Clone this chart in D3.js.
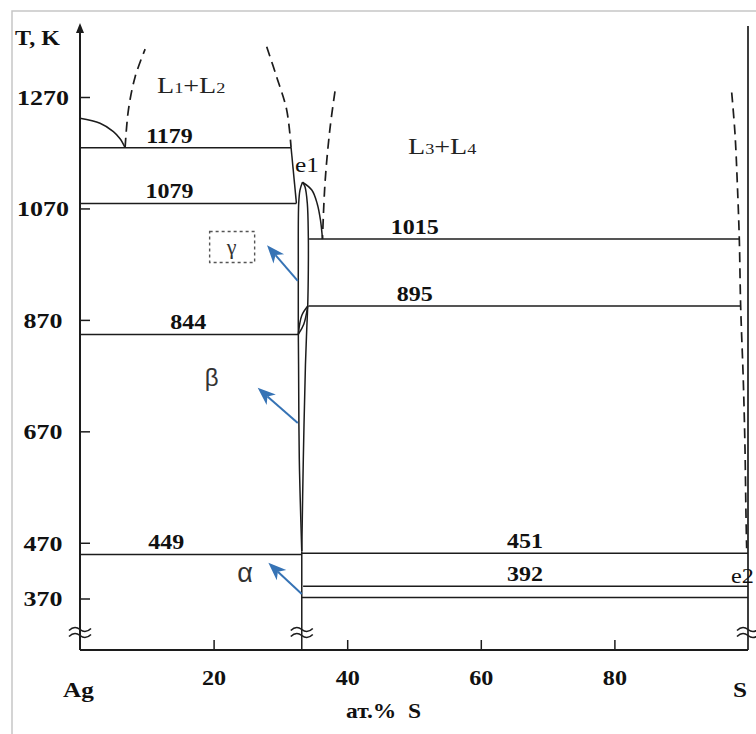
<!DOCTYPE html>
<html>
<head>
<meta charset="utf-8">
<script src="https://cdn.jsdelivr.net/npm/d3@7"></script>
<style>
  html, body { margin: 0; padding: 0; background: #fff; }
  svg { display: block; }
</style>
</head>
<body>
<svg id="chart" width="756" height="734"></svg>
<script>
// Ag–S phase diagram (T, K vs at.% S)

const yTicks = [1270, 1070, 870, 670, 470, 370];
const xTicks = [20, 40, 60, 80];

// Invariant horizontals: temperature and composition span (at.% S)
const isoT      = [1179, 1079, 1015, 895, 844, 449, 451, 392, 372];
const isoFrom   = [0,    0,    34.3, 34.2, 0,    0,    33.2, 33.4, 33.2];
const isoTo     = [31.6, 32.4, 98.7, 98.9, 32.7, 33.2, 100,  100,  100];
const isoLabel  = ["1179", "1079", "1015", "895", "844", "449", "451", "392", ""];
const isoLabelX = [13.4, 13.4, 50.1, 50.1, 16.2, 12.9, 66.6, 66.6, 0];

// Boundary curves as [at.% S, T] pairs
const agLiquidus = [[0, 1232], [3.0, 1223], [5.0, 1208], [6.0, 1195], [6.75, 1179]];
const gap1Left   = [[6.75, 1179], [7.25, 1247], [8.25, 1306], [9.75, 1356]];
const gap1Right  = [[27.95, 1360], [29.44, 1306], [30.94, 1247], [31.6, 1179]];
const gap1Foot   = [[31.6, 1179], [32.4, 1079]];
const gap2Left   = [[38.17, 1280], [37.4, 1211], [36.68, 1116], [36.3, 1015]];
const gap2Right  = [[97.56, 1278], [98.05, 1205], [98.4, 1115], [98.7, 1015],
                    [98.9, 895], [99.3, 760], [99.55, 640], [99.7, 520], [99.8, 460]];
const e1Dome     = [[33.3, 1117], [34.7, 1103], [35.5, 1079], [36.0, 1049], [36.3, 1015]];
const lensLeft   = [[33.3, 1117], [32.93, 1103], [32.74, 1079], [32.68, 960],
                    [32.68, 858], [32.72, 790], [32.83, 620], [33.2, 455]];
const lensRight  = [[33.3, 1117], [33.68, 1109], [34.03, 1079], [34.18, 1019],
                    [34.18, 960], [34.1, 900], [33.94, 852], [33.75, 790],
                    [33.43, 620], [33.2, 455]];
const loopA      = [[32.68, 844], [33.5, 862], [34.1, 895]];
const loopB      = [[32.68, 844], [33.2, 878], [34.1, 895]];
const ag2sLine   = 33.2;   // stoichiometric Ag2S below the lens

// Phase labels and pointers, [at.% S, T]
const phaseNames  = ["γ", "β", "α"];
const phaseAt     = [[22.7, 1000], [19.7, 764], [24.7, 414]];
const pointerFrom = [[32.6, 940], [32.6, 685], [33.2, 378]];
const pointerTo   = [[28.0, 1004], [26.6, 748], [28.2, 434]];

const svg = d3.select("#chart");
const x = d3.scaleLinear().domain([0, 100]).range([80, 748]);
const y = d3.scaleLinear().domain([370, 1270]).range([598.5, 97]);
const axisY = 650, axisTop = 23;

const INK = "#1c1c1c";
const SERIF = "'Liberation Serif', 'Times New Roman', serif";
const SANS = "'Liberation Sans', Arial, sans-serif";
const BLUE = "#3673b5";

// outer frame
svg.append("rect")
  .attr("x", 12).attr("y", 11).attr("width", 780).attr("height", 760)
  .attr("fill", "none").attr("stroke", "#c6c6c6").attr("stroke-width", 1.5);

const line = d3.line().x(d => x(d[0])).y(d => y(d[1])).curve(d3.curveCatmullRom.alpha(0.5));

function stretchText(g, str, px, py, size, anchor, sx, family, weight) {
  return g.append("text")
    .attr("transform", `translate(${px},${py}) scale(${sx},1)`)
    .attr("text-anchor", anchor)
    .attr("font-family", family)
    .attr("font-weight", weight)
    .attr("font-size", size)
    .attr("fill", "#111")
    .style("white-space", "pre")
    .text(str);
}

// y axis
const gy = svg.append("g").attr("transform", "translate(80,0)")
  .call(d3.axisLeft(y).tickValues(yTicks).tickSizeInner(-10).tickSizeOuter(0).tickFormat(d3.format("d")));
gy.select(".domain").remove();
gy.selectAll(".tick line").attr("stroke", INK).attr("stroke-width", 1.5);
gy.selectAll(".tick text")
  .attr("x", 0).attr("dy", "0.34em")
  .attr("transform", "translate(-37,0) scale(1.18,1)")
  .attr("text-anchor", "middle")
  .attr("font-family", SERIF).attr("font-weight", "bold").attr("font-size", 22).attr("fill", "#111");

svg.append("line").attr("x1", 80).attr("x2", 80).attr("y1", axisY).attr("y2", axisTop + 6)
  .attr("stroke", INK).attr("stroke-width", 2);
svg.append("path").attr("d", `M80,${axisTop} L76,${axisTop + 10} L84,${axisTop + 10} Z`).attr("fill", INK);

// x axis
const gx = svg.append("g").attr("transform", `translate(0,${axisY})`)
  .call(d3.axisBottom(x).tickValues(xTicks).tickSizeInner(-10).tickSizeOuter(0));
gx.select(".domain").remove();
gx.selectAll(".tick line").attr("stroke", INK).attr("stroke-width", 1.5);
gx.selectAll(".tick text")
  .attr("y", 35).attr("dy", 0)
  .attr("transform", "scale(1.15,1)")
  .attr("font-family", SERIF).attr("font-weight", "bold").attr("font-size", 21).attr("fill", "#111");
svg.append("line").attr("x1", 80).attr("x2", x(100)).attr("y1", axisY).attr("y2", axisY)
  .attr("stroke", INK).attr("stroke-width", 2);

// S-side vertical
svg.append("line").attr("x1", x(100)).attr("x2", x(100)).attr("y1", 26).attr("y2", axisY)
  .attr("stroke", INK).attr("stroke-width", 1.7);
// Ag2S vertical below the lens
svg.append("line").attr("x1", x(ag2sLine)).attr("x2", x(ag2sLine)).attr("y1", y(455)).attr("y2", axisY)
  .attr("stroke", INK).attr("stroke-width", 1.5);

// axis break marks
[0, ag2sLine, 100].forEach(c => {
  const cx = x(c);
  [629.5, 635.5].forEach(cy => {
    const p = d3.path();
    p.moveTo(cx - 11, cy + 1);
    p.quadraticCurveTo(cx - 5.5, cy - 4.5, cx, cy);
    p.quadraticCurveTo(cx + 5.5, cy + 4.5, cx + 11, cy - 1);
    svg.append("path").attr("d", p.toString()).attr("fill", "none")
      .attr("stroke", INK).attr("stroke-width", 1.6);
  });
});

// isotherms
const gIso = svg.append("g");
isoT.forEach((t, i) => {
  gIso.append("line")
    .attr("x1", x(isoFrom[i])).attr("x2", x(isoTo[i]))
    .attr("y1", y(t)).attr("y2", y(t))
    .attr("stroke", INK).attr("stroke-width", 1.5);
  if (isoLabel[i]) {
    stretchText(gIso, isoLabel[i], x(isoLabelX[i]), y(t) - 5, 20, "middle", 1.2, SERIF, "bold");
  }
});

// solid boundaries
[agLiquidus, gap1Foot, e1Dome, lensLeft, lensRight, loopA, loopB].forEach(c => {
  svg.append("path").attr("d", line(c)).attr("fill", "none")
    .attr("stroke", INK).attr("stroke-width", 1.5);
});

// metastable (dashed) liquid-immiscibility boundaries
[gap1Left, gap1Right, gap2Left, gap2Right].forEach(c => {
  svg.append("path").attr("d", line(c)).attr("fill", "none")
    .attr("stroke", INK).attr("stroke-width", 1.7).attr("stroke-dasharray", "10,6");
});

// region labels with subscripts
function liquidLabel(px, py, a, b) {
  const t = svg.append("text")
    .attr("transform", `translate(${px},${py}) scale(1.22,1)`)
    .attr("font-family", SERIF).attr("font-size", 23).attr("fill", "#222");
  t.append("tspan").text("L");
  t.append("tspan").attr("font-size", 15).text(a);
  t.append("tspan").text("+L");
  t.append("tspan").attr("font-size", 15).text(b);
}
liquidLabel(157, 93, "1", "2");
liquidLabel(408, 154, "3", "4");

stretchText(svg, "e1", 295, 171.5, 22, "start", 1.15, SERIF, "normal");
stretchText(svg, "e2", 731, 583, 22, "start", 1.1, SERIF, "normal");

// composition end-members and axis titles
stretchText(svg, "T, K", 15, 45, 20, "start", 1.2, SERIF, "bold");
stretchText(svg, "Ag", 63, 697, 21, "start", 1.2, SERIF, "bold");
stretchText(svg, "S", 733, 697, 21, "start", 1.2, SERIF, "bold");
stretchText(svg, "ат.%\u00a0\u00a0S", 346, 718, 21, "start", 1.12, SERIF, "bold");

// solid-phase labels
svg.append("rect")
  .attr("x", x(phaseAt[0][0]) - 22).attr("y", y(phaseAt[0][1]) - 16)
  .attr("width", 45).attr("height", 31)
  .attr("fill", "none").attr("stroke", "#555").attr("stroke-width", 1.4)
  .attr("stroke-dasharray", "3,3");
const phaseFont = [SERIF, SANS, SANS];
const phaseSize = [22, 24, 27];
phaseNames.forEach((n, i) => {
  svg.append("text")
    .attr("x", x(phaseAt[i][0])).attr("y", y(phaseAt[i][1]))
    .attr("dy", "0.3em").attr("text-anchor", "middle")
    .attr("font-family", phaseFont[i]).attr("font-size", phaseSize[i]).attr("fill", "#333")
    .text(n);
});

// pointers from the Ag2S lens to the phase labels
pointerFrom.forEach((f, i) => {
  const x0 = x(f[0]), y0 = y(f[1]);
  const x1 = x(pointerTo[i][0]), y1 = y(pointerTo[i][1]);
  const ang = Math.atan2(y1 - y0, x1 - x0);
  const len = 18, half = 7, notch = 13;
  const ux = Math.cos(ang), uy = Math.sin(ang);
  const bx = x1 - ux * len, by = y1 - uy * len;
  const nx = x1 - ux * notch, ny = y1 - uy * notch;
  svg.append("line").attr("x1", x0).attr("y1", y0).attr("x2", nx).attr("y2", ny)
    .attr("stroke", BLUE).attr("stroke-width", 2);
  svg.append("path")
    .attr("d", `M${x1},${y1} L${bx - uy * half},${by + ux * half} L${nx},${ny} L${bx + uy * half},${by - ux * half} Z`)
    .attr("fill", BLUE);
});
</script>
</body>
</html>
